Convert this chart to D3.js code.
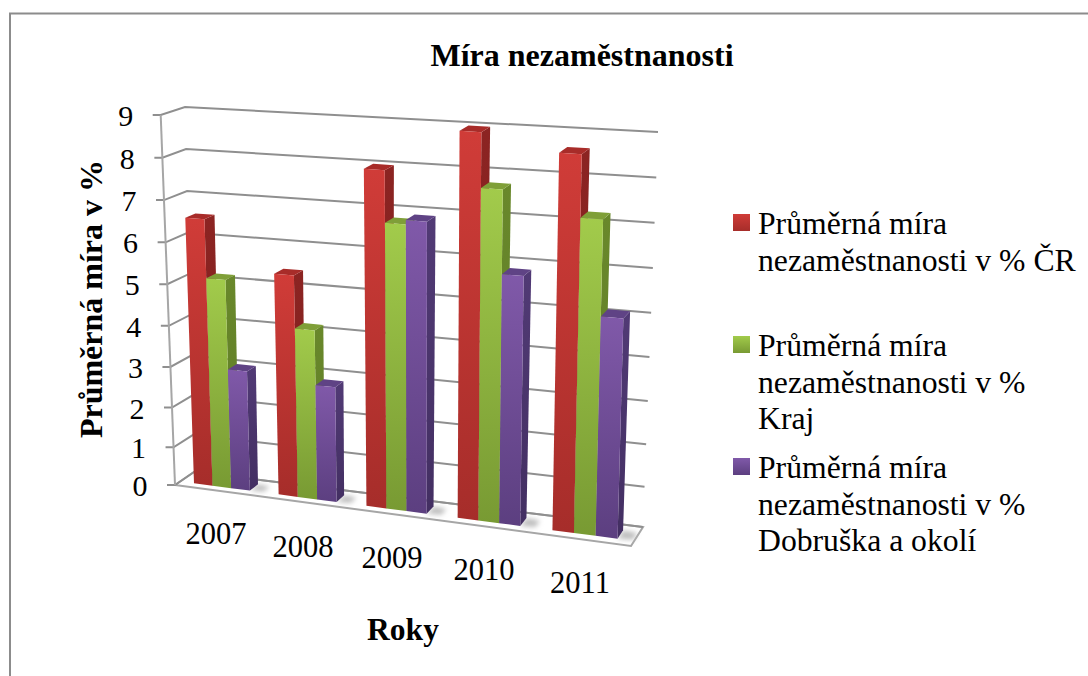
<!DOCTYPE html>
<html>
<head>
<meta charset="utf-8">
<title>Míra nezaměstnanosti</title>
<style>
  html, body { margin: 0; padding: 0; background: #fff; }
  svg { display: block; }
  text { font-family: "Liberation Serif", serif; fill: #000; }
</style>
</head>
<body>
<div id="chart"></div>
<script src="https://d3js.org/d3.v7.min.js"></script>
<script>
  const years = ["2007", "2008", "2009", "2010", "2011"];
  const seriesNames = ["cr", "kraj", "dobruska"];
  const crValues = [6.55, 5.4, 8.0, 9.0, 8.65];
  const krajValues = [5.15, 4.15, 6.8, 7.75, 7.25];
  const dobruskaValues = [3.0, 2.85, 6.9, 5.85, 5.1];
  const yTicks = [0, 1, 2, 3, 4, 5, 6, 7, 8, 9];
  const legendLabels = [
    ["Průměrná míra", "nezaměstnanosti v % ČR"],
    ["Průměrná míra", "nezaměstnanosti v %", "Kraj"],
    ["Průměrná míra", "nezaměstnanosti v %", "Dobruška a okolí"]
  ];

  const W = 1088, H = 676;
  const svg = d3.select("#chart").append("svg").attr("width", W).attr("height", H);

  // corners of the 3d box as they land on the picture (front / back, left / right, bottom / top)
  const FLB = [175, 485], FLT = [160.7, 115], FRB = [631, 546], FRT = [641, 146];
  const BLB = [194, 472], BLT = [185, 107], BRB = [643, 527], BRT = [658, 132];

  function lerp(a, b, t) { return [a[0] + (b[0] - a[0]) * t, a[1] + (b[1] - a[1]) * t]; }

  // x in 0..1 along the categories, h in 0..1 up, d in 0..1 into the picture
  function project(x, h, d) {
    const s = 1.1;
    const u = x / (s - (s - 1) * x); // right side is nearer the camera
    const bottom = lerp(lerp(FLB, FRB, u), lerp(BLB, BRB, u), d);
    const top = lerp(lerp(FLT, FRT, u), lerp(BLT, BRT, u), d);
    return lerp(bottom, top, h);
  }

  const xBand = d3.scaleBand().domain(years).range([0, 1]).paddingInner(0.335).paddingOuter(0.1675);
  const xSeries = d3.scaleBand().domain(seriesNames).range([0, xBand.bandwidth()]);
  const yScale = d3.scalePow().exponent(1.04).domain([0, 9]).range([0, 1]);
  const zFront = 0.27, zBack = 0.72;

  const poly = d3.line();

  // gradients
  const defs = svg.append("defs");
  const colors = {
    cr: { front: ["#d03c38", "#a62d2a"], side: ["#8c2422", "#7c201e"], top: "#a82c29" },
    kraj: { front: ["#a2cb4b", "#789a33"], side: ["#69882b", "#5f7c26"], top: "#7f9f38" },
    dobruska: { front: ["#8059a9", "#5c3f80"], side: ["#513a75", "#432f62"], top: "#5f4385" }
  };
  seriesNames.forEach(function (name) {
    ["front", "side"].forEach(function (part) {
      const g = defs.append("linearGradient")
        .attr("id", name + "-" + part)
        .attr("x1", 0).attr("y1", 0).attr("x2", 0).attr("y2", 1);
      g.append("stop").attr("offset", "0%").attr("stop-color", colors[name][part][0]);
      g.append("stop").attr("offset", "100%").attr("stop-color", colors[name][part][1]);
    });
  });
  defs.append("filter").attr("id", "soft").append("feGaussianBlur").attr("stdDeviation", 2.5);

  // floor
  svg.append("path")
    .attr("d", poly([FLB, FRB, BRB, BLB]) + "Z")
    .attr("fill", "#fff")
    .attr("stroke", "#a6a6a6")
    .attr("stroke-width", 2);

  // gridlines: front-left tick, left wall, back wall
  const GRID = "#8f8f8f";
  const grid = svg.append("g").attr("fill", "none").attr("stroke", GRID).attr("stroke-width", 2);
  yTicks.forEach(function (t) {
    const v = yScale(t);
    const a = project(0, v, 0), b = project(0, v, 1), c = project(1, v, 1);
    grid.append("path").attr("d", poly([[a[0] - 8, a[1]], a, b, c]));
  });
  grid.append("path").attr("d", poly([FLB, FLT])).attr("stroke", "#a6a6a6");

  // y tick labels
  svg.append("g").selectAll("text").data(yTicks).join("text")
    .attr("x", function (t) { return project(0, yScale(t), 0)[0] - 35; })
    .attr("y", function (t) { return project(0, yScale(t), 0)[1] + 11; })
    .attr("text-anchor", "middle")
    .attr("font-size", 30)
    .text(function (t) { return t; });

  // one row per bar, painted left to right so each front hides the previous side
  const seriesValues = { cr: crValues, kraj: krajValues, dobruska: dobruskaValues };
  const bars = [];
  years.forEach(function (year, i) {
    seriesNames.forEach(function (name) {
      bars.push({ year: year, name: name, value: seriesValues[name][i] });
    });
  });

  // floor shadows first
  const shadowG = svg.append("g").attr("filter", "url(#soft)");
  years.forEach(function (year) {
    const x1 = xBand(year) + xBand.bandwidth();
    const pts = [project(x1, 0, zFront), project(x1 + 0.03, 0, zFront + 0.05),
      project(x1 + 0.03, 0, zBack - 0.05), project(x1, 0, zBack)];
    shadowG.append("path").attr("d", poly(pts) + "Z").attr("fill", "#bdbdbd");
  });

  const barG = svg.append("g").selectAll("g").data(bars).join("g");
  barG.each(function (d) {
    const g = d3.select(this);
    const x0 = xBand(d.year) + xSeries(d.name);
    const x1 = x0 + xSeries.bandwidth();
    const h = yScale(d.value);
    g.append("path")
      .attr("d", poly([project(x1, 0, zFront), project(x1, h, zFront), project(x1, h, zBack), project(x1, 0, zBack)]) + "Z")
      .attr("fill", "url(#" + d.name + "-side)");
    g.append("path")
      .attr("d", poly([project(x0, h, zFront), project(x1, h, zFront), project(x1, h, zBack), project(x0, h, zBack)]) + "Z")
      .attr("fill", colors[d.name].top);
    g.append("path")
      .attr("d", poly([project(x0, 0, zFront), project(x1, 0, zFront), project(x1, h, zFront), project(x0, h, zFront)]) + "Z")
      .attr("fill", "url(#" + d.name + "-front)");
  });

  // category labels
  const yearLabelX = [216, 303, 392, 484, 580];
  const yearLabelY = [544, 557, 568, 580, 593];
  svg.append("g").selectAll("text").data(years).join("text")
    .attr("x", function (d, i) { return yearLabelX[i]; })
    .attr("y", function (d, i) { return yearLabelY[i]; })
    .attr("text-anchor", "middle")
    .attr("font-size", 30.5)
    .text(function (d) { return d; });

  // titles
  svg.append("text").attr("x", 582).attr("y", 66).attr("text-anchor", "middle")
    .attr("font-size", 32).attr("font-weight", "bold").text("Míra nezaměstnanosti");
  svg.append("text").attr("transform", "translate(102,299) rotate(-90)").attr("text-anchor", "middle")
    .attr("font-size", 32).attr("font-weight", "bold").text("Průměrná míra v %");
  svg.append("text").attr("x", 403).attr("y", 640).attr("text-anchor", "middle")
    .attr("font-size", 31.5).attr("font-weight", "bold").text("Roky");

  // legend
  const legendY = [234, 356, 478];
  seriesNames.forEach(function (name, i) {
    svg.append("rect")
      .attr("x", 733).attr("y", legendY[i] - 20).attr("width", 17).attr("height", 17)
      .attr("fill", "url(#" + name + "-front)");
    const t = svg.append("text").attr("font-size", 31.7);
    legendLabels[i].forEach(function (line, j) {
      t.append("tspan").attr("x", 758).attr("y", legendY[i] + j * 36.6).text(line);
    });
  });

  // outer chart border
  svg.append("path")
    .attr("d", "M10,676V13.5H1088")
    .attr("fill", "none")
    .attr("stroke", "#8c8c8c")
    .attr("stroke-width", 2);
</script>
</body>
</html>
